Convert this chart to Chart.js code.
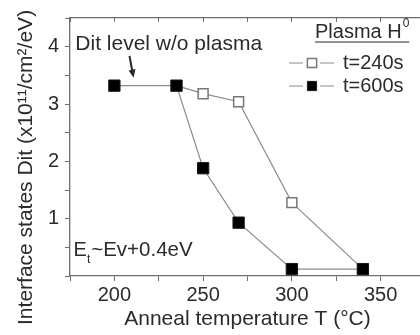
<!DOCTYPE html>
<html>
<head>
<meta charset="utf-8">
<script src="https://cdn.jsdelivr.net/npm/chart.js@4.4.0/dist/chart.umd.min.js"></script>
<style>
  html, body { margin: 0; padding: 0; background: #fff; overflow: hidden; }
  #wrap { width: 434px; height: 335px; }
</style>
</head>
<body>
<div id="wrap"><canvas id="dit" width="434" height="335"></canvas></div>
<script>
(() => {
  "use strict";

  // anneal temperature (°C) and Dit (x10^11 /cm^2/eV)
  const temps600 = [200, 235, 250, 270, 300, 340];
  const dit600 = [3.32, 3.32, 1.88, 0.93, 0.12, 0.12];
  const temps240 = [235, 250, 270, 300, 340];
  const dit240 = [3.32, 3.18, 3.04, 1.28, 0.12];
  const xTickLabels = [200, 250, 300, 350];
  const yTickLabels = [1, 2, 3, 4];

  const ink = '#2b2b2b';
  const axisGrey = '#6e6e6e';
  const lineGrey = '#8c8c8c';
  const family = "'Liberation Sans', Arial, sans-serif";

  Chart.defaults.font.family = family;
  Chart.defaults.color = ink;

  const toPoints = (xs, ys) => xs.map((t, i) => ({ x: t, y: ys[i] }));

  const notes = {
    id: 'notes',
    afterDatasetsDraw(chart) {
      const { ctx, scales: { x, y } } = chart;
      ctx.save();
      ctx.fillStyle = ink;
      ctx.strokeStyle = ink;
      ctx.textAlign = 'left';
      ctx.textBaseline = 'middle';

      // "Dit level" note + arrow
      ctx.font = `21px ${family}`;
      ctx.fillText('Dit level w/o plasma', x.getPixelForValue(178), y.getPixelForValue(4.04));

      const ax0 = x.getPixelForValue(208.5), ay0 = y.getPixelForValue(3.84);
      const ax1 = x.getPixelForValue(210.8), ay1 = y.getPixelForValue(3.46);
      const ang = Math.atan2(ay1 - ay0, ax1 - ax0);
      ctx.lineWidth = 2;
      ctx.beginPath();
      ctx.moveTo(ax0, ay0);
      ctx.lineTo(ax1 - 5 * Math.cos(ang), ay1 - 5 * Math.sin(ang));
      ctx.stroke();
      ctx.beginPath();
      ctx.moveTo(ax1, ay1);
      ctx.lineTo(ax1 - 8 * Math.cos(ang) + 3.5 * Math.sin(ang), ay1 - 8 * Math.sin(ang) - 3.5 * Math.cos(ang));
      ctx.lineTo(ax1 - 8 * Math.cos(ang) - 3.5 * Math.sin(ang), ay1 - 8 * Math.sin(ang) + 3.5 * Math.cos(ang));
      ctx.closePath();
      ctx.fill();

      // trap level note
      let ex = x.getPixelForValue(177);
      const ey = y.getPixelForValue(0.44);
      ctx.font = `20px ${family}`;
      ctx.fillText('E', ex, ey);
      ex += ctx.measureText('E').width;
      ctx.font = `12px ${family}`;
      ctx.fillText('t', ex, ey + 9);
      ex += ctx.measureText('t').width + 1;
      ctx.font = `20.5px ${family}`;
      ctx.fillText('~Ev+0.4eV', ex, ey);

      // legend
      const lx = 315;
      ctx.font = `20px ${family}`;
      ctx.fillText('Plasma H', lx, 32);
      const w = ctx.measureText('Plasma H').width;
      ctx.font = `12px ${family}`;
      ctx.fillText('0', lx + w + 1, 24);
      const sw = ctx.measureText('0').width;
      ctx.lineWidth = 1.2;
      ctx.beginPath();
      ctx.moveTo(lx, 42);
      ctx.lineTo(lx + w + sw + 1, 42);
      ctx.stroke();

      const rows = [chart.data.datasets[1], chart.data.datasets[0]];
      rows.forEach((ds, i) => {
        const ry = 63 + i * 23;
        ctx.strokeStyle = ds.borderColor;
        ctx.lineWidth = ds.borderWidth;
        ctx.beginPath();
        ctx.moveTo(289, ry);
        ctx.lineTo(303, ry);
        ctx.moveTo(320, ry);
        ctx.lineTo(334, ry);
        ctx.stroke();
        ctx.fillStyle = ds.pointBackgroundColor;
        ctx.strokeStyle = ds.pointBorderColor;
        ctx.lineWidth = ds.pointBorderWidth;
        Chart.helpers.drawPoint(ctx, {
          pointStyle: 'rect', rotation: 0,
          radius: 6.5, borderWidth: ds.pointBorderWidth
        }, 312, ry);
        ctx.fillStyle = ink;
        ctx.font = `20px ${family}`;
        ctx.fillText(ds.label, 343, ry);
      });

      ctx.restore();
    }
  };

  const axisBorder = { display: true, color: axisGrey, width: 1.3 };

  new Chart(document.getElementById('dit').getContext('2d'), {
    type: 'line',
    data: {
      datasets: [{
        label: 't=600s',
        data: toPoints(temps600, dit600),
        borderColor: lineGrey,
        borderWidth: 1.2,
        tension: 0,
        pointStyle: 'rect',
        pointRadius: 8,
        pointBackgroundColor: '#000',
        pointBorderColor: '#1a1a1a',
        pointBorderWidth: 1
      }, {
        label: 't=240s',
        data: toPoints(temps240, dit240),
        borderColor: lineGrey,
        borderWidth: 1.2,
        tension: 0,
        pointStyle: 'rect',
        pointRadius: 7,
        pointBackgroundColor: '#fff',
        pointBorderColor: '#777',
        pointBorderWidth: 1.5
      }]
    },
    options: {
      responsive: false,
      animation: false,
      devicePixelRatio: 1,
      layout: { padding: { top: 13, right: 4, left: 0, bottom: 0 } },
      plugins: {
        legend: { display: false },
        tooltip: { enabled: false }
      },
      scales: {
        x: {
          type: 'linear',
          position: 'bottom',
          min: 175,
          max: 375,
          ticks: {
            stepSize: 25,
            autoSkip: false,
            maxRotation: 0,
            padding: 2,
            color: ink,
            font: { size: 20 },
            callback: (v) => xTickLabels.includes(v) ? String(v) : ''
          },
          grid: { drawOnChartArea: false, tickLength: 5, color: axisGrey },
          border: axisBorder,
          title: {
            display: true,
            text: 'Anneal temperature T (°C)',
            color: ink,
            font: { size: 21 },
            padding: { top: 0, bottom: 3 }
          },
          afterFit: (s) => { s.height = 59; }
        },
        x2: {
          type: 'linear',
          position: 'top',
          min: 175,
          max: 375,
          ticks: { stepSize: 25, autoSkip: false, callback: () => '' },
          grid: { drawOnChartArea: false, tickLength: -4, color: axisGrey },
          border: axisBorder,
          afterFit: (s) => { s.height = 0; }
        },
        y: {
          min: 0,
          max: 4.5,
          ticks: {
            stepSize: 0.5,
            autoSkip: false,
            padding: 6,
            color: ink,
            font: { size: 20 },
            callback: (v) => yTickLabels.includes(v) ? String(v) : ''
          },
          grid: { drawOnChartArea: false, tickLength: 5, color: axisGrey },
          border: axisBorder,
          title: {
            display: true,
            text: 'Interface states Dit (x10¹¹/cm²/eV)       ',
            color: ink,
            font: { size: 21 },
            padding: { top: 14, bottom: 0 }
          },
          afterFit: (s) => { s.width = 70; }
        }
      }
    },
    plugins: [notes]
  });
})();
</script>
</body>
</html>
